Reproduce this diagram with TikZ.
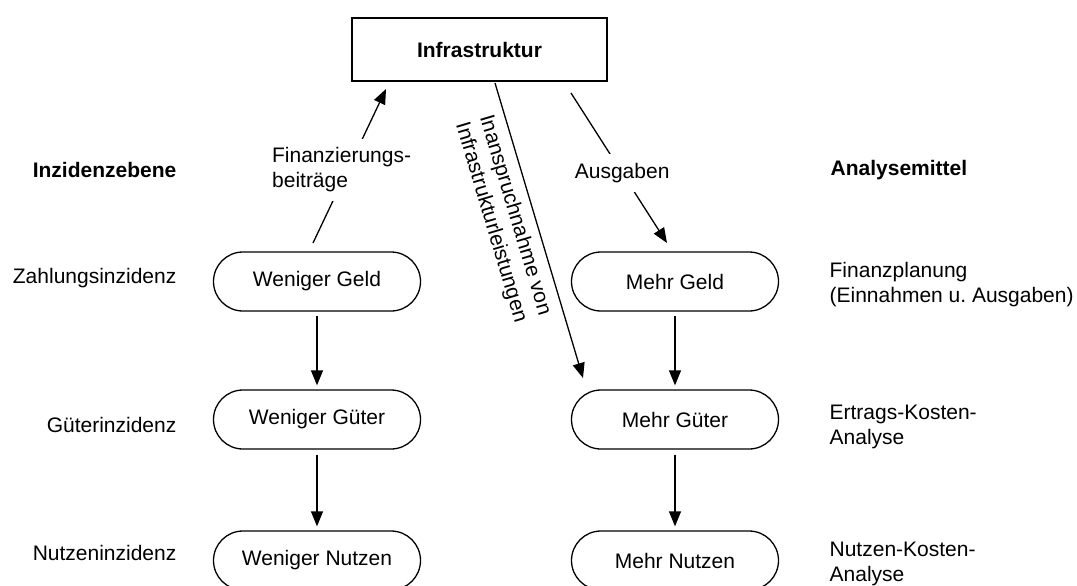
\documentclass[tikz,border=0pt]{standalone}
\usepackage{fontspec}
\setmainfont{Liberation Sans}
\usetikzlibrary{arrows.meta}
\tikzset{
  txt/.style={font=\fontsize{21}{25}\selectfont, inner sep=0pt},
  head/.style={font=\fontsize{21}{25}\selectfont\bfseries, inner sep=0pt},
  pill/.style={txt, draw, rounded corners=29.5pt, minimum width=207pt, minimum height=59pt},
  flow/.style={-{Triangle[length=15pt,width=12pt]}},
  gaplabel/.style={txt, fill=white, inner xsep=2pt, inner ysep=9pt}
}
\begin{document}
\begin{tikzpicture}[x=1pt,y=-1pt,line width=1.3pt]
  \useasboundingbox (0,0) rectangle (1077,586);
  % top box
  \node[head, draw, minimum width=255pt, minimum height=63pt] (infra) at (479.5,49.5) {Infrastruktur};
  % the two columns
  \node[pill] (wgeld) at (317,281.5) {Weniger Geld};
  \node[pill] (wgueter) at (317,419.5) {Weniger Güter};
  \node[pill] (wnutzen) at (317,560.5) {Weniger Nutzen};
  \node[pill] (mgeld) at (675,281.5) {Mehr Geld};
  \node[pill] (mgueter) at (675,419.5) {Mehr Güter};
  \node[pill] (mnutzen) at (675,560.5) {Mehr Nutzen};
  % left labels
  \node[head, anchor=east] (ebene) at (177,170) {Inzidenzebene};
  \node[txt, anchor=east] (zahlung) at (177,278) {Zahlungsinzidenz};
  \node[txt, anchor=east] (gueter) at (177,425) {Güterinzidenz};
  \node[txt, anchor=east] (nutzen) at (177,553) {Nutzeninzidenz};
  % right labels
  \node[head, anchor=west] (mittel) at (830,170) {Analysemittel};
  \node[txt, anchor=west, align=left] (finplan) at (829,284.5) {Finanzplanung\\(Einnahmen u.\ Ausgaben)};
  \node[txt, anchor=west, align=left] (ertrag) at (829,427) {Ertrags-Kosten-\\Analyse};
  \node[txt, anchor=west, align=left] (nka) at (829,564) {Nutzen-Kosten-\\Analyse};
  % free ends
  \coordinate (finA) at (313,243);
  \coordinate (finB) at (386,89);
  \coordinate (ausA) at (571,93);
  \coordinate (ausB) at (667,243);
  \coordinate (inA) at (495,83);
  \coordinate (inB) at (583,378);
  \begin{scope}[flow]
    \draw[shorten <=4pt, shorten >=4pt] (wgeld) -- (wgueter);
    \draw[shorten <=5pt, shorten >=4pt] (wgueter) -- (wnutzen);
    \draw[shorten <=4pt, shorten >=4pt] (mgeld) -- (mgueter);
    \draw[shorten <=5pt, shorten >=4pt] (mgueter) -- (mnutzen);
    \draw (finA) -- node[gaplabel, pos=0.474, xshift=-6pt, align=left] (finlbl) {Finanzierungs-\\beiträge} (finB);
    \draw (ausA) -- node[gaplabel, pos=0.533] (auslbl) {Ausgaben} (ausB);
    \draw (inA) -- node[txt, sloped, below, pos=0.43, inner sep=8.5pt, align=center] (inlbl) {Inanspruchnahme von\\Infrastrukturleistungen} (inB);
  \end{scope}
\end{tikzpicture}
\end{document}
